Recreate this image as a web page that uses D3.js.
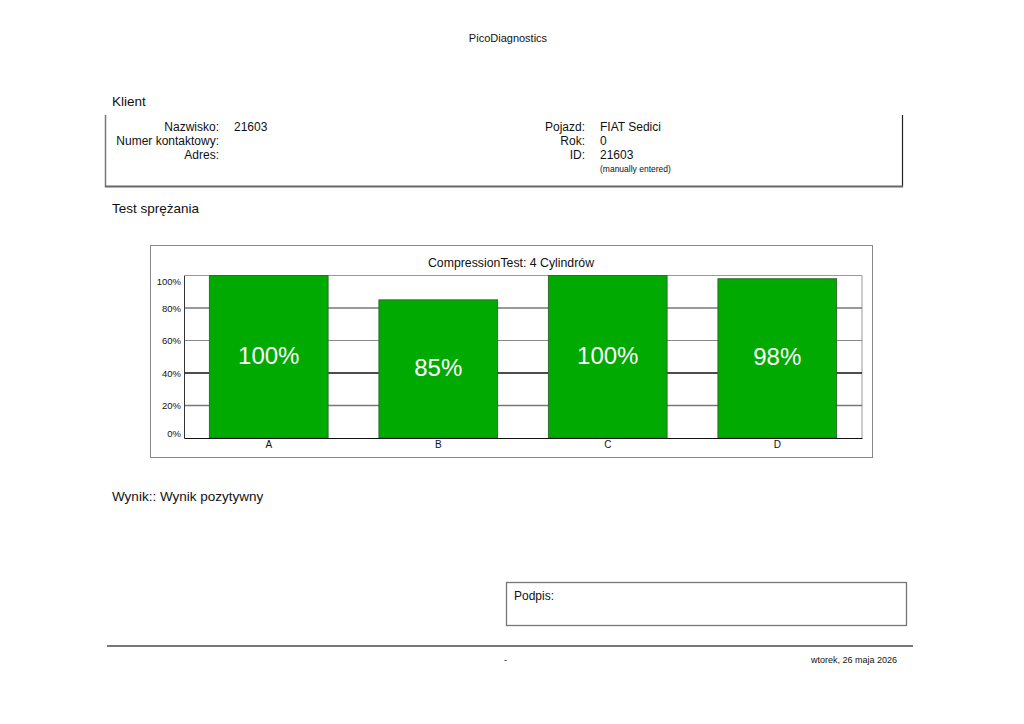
<!DOCTYPE html>
<html>
<head>
<meta charset="utf-8">
<script src="https://cdn.jsdelivr.net/npm/d3@7"></script>
<style>
  body { margin: 0; background: #fff; }
  text { font-family: "Liberation Sans", Arial, sans-serif; fill: #111; }
</style>
</head>
<body>
<div id="page"></div>
<script>
var width = 1024
var height = 724

// chart data
var cylinders = ["A", "B", "C", "D"]
var compression = [100, 85, 100, 98]
var yTicks = [0, 20, 40, 60, 80, 100]

// report fields
var clientLabels = ["Nazwisko:", "Numer kontaktowy:", "Adres:"]
var clientValues = ["21603", "", ""]
var vehicleLabels = ["Pojazd:", "Rok:", "ID:"]
var vehicleValues = ["FIAT Sedici", "0", "21603"]

var svg = d3.select("#page")
  .append("svg")
    .attr("width", width)
    .attr("height", height)

svg.append("rect").attr("width", width).attr("height", height).attr("fill", "#fff")

// header
svg.append("text").attr("x", 508).attr("y", 42).attr("text-anchor", "middle")
  .style("font-size", "11px").text("PicoDiagnostics")

svg.append("text").attr("x", 112).attr("y", 106).style("font-size", "13.5px").text("Klient")

// client box
svg.append("line").attr("x1", 105.5).attr("x2", 105.5).attr("y1", 115).attr("y2", 187)
  .attr("stroke", "#777").attr("stroke-width", 1.5)
svg.append("line").attr("x1", 902.5).attr("x2", 902.5).attr("y1", 115).attr("y2", 187)
  .attr("stroke", "#222").attr("stroke-width", 1.2)
svg.append("line").attr("x1", 105).attr("x2", 903).attr("y1", 186.5).attr("y2", 186.5)
  .attr("stroke", "#666").attr("stroke-width", 2)

var rowY = d3.scaleLinear().domain([0, 1]).range([131, 145])

svg.selectAll(".clab").data(clientLabels).enter().append("text")
  .attr("x", 219).attr("y", function(d, i) { return rowY(i) })
  .attr("text-anchor", "end").style("font-size", "12px").text(function(d) { return d })
svg.selectAll(".cval").data(clientValues).enter().append("text")
  .attr("x", 234).attr("y", function(d, i) { return rowY(i) })
  .style("font-size", "12px").text(function(d) { return d })
svg.selectAll(".vlab").data(vehicleLabels).enter().append("text")
  .attr("x", 585).attr("y", function(d, i) { return rowY(i) })
  .attr("text-anchor", "end").style("font-size", "12px").text(function(d) { return d })
svg.selectAll(".vval").data(vehicleValues).enter().append("text")
  .attr("x", 600).attr("y", function(d, i) { return rowY(i) })
  .style("font-size", "12px").text(function(d) { return d })
svg.append("text").attr("x", 600).attr("y", rowY(3) - 1)
  .style("font-size", "8.5px").text("(manually entered)")

svg.append("text").attr("x", 112).attr("y", 213).style("font-size", "13.5px").text("Test sprężania")

// chart frame
svg.append("rect").attr("x", 150.5).attr("y", 245.5).attr("width", 722).attr("height", 212)
  .attr("fill", "#fff").attr("stroke", "#888").attr("stroke-width", 1)

svg.append("text").attr("x", 511).attr("y", 267).attr("text-anchor", "middle")
  .style("font-size", "12.3px").text("CompressionTest: 4 Cylindrów")

var plotL = 184, plotR = 862, plotT = 275.5, plotB = 438

var x = d3.scaleBand().domain(cylinders).range([plotL, plotR])
  .paddingInner(0.3).paddingOuter(0.15)
var y = d3.scaleLinear().domain([0, 100]).range([plotB, plotT])

// plot border top/right
svg.append("path")
  .attr("d", "M" + plotL + "," + plotT + "H" + plotR + "V" + plotB)
  .attr("fill", "none").attr("stroke", "#999").attr("stroke-width", 1)

// gridlines
svg.append("g").selectAll("line").data(yTicks.filter(function(t) { return t > 0 && t < 100 }))
  .enter().append("line")
    .attr("x1", plotL).attr("x2", plotR)
    .attr("y1", function(d) { return y(d) }).attr("y2", function(d) { return y(d) })
    .attr("stroke", function(d) { return d == 40 ? "#111" : d == 60 ? "#888" : "#777" })
    .attr("stroke-width", function(d) { return d == 60 ? 1 : 1.6 })

// y axis
var yAxis = svg.append("g").attr("transform", "translate(" + plotL + ",0)")
  .call(d3.axisLeft(y).tickValues(yTicks).tickSize(0).tickPadding(3)
    .tickFormat(function(d) { return d + "%" }))
yAxis.select(".domain").attr("stroke", "#333")
yAxis.selectAll("text").style("font-size", "9.5px").attr("fill", "#111")
  .attr("font-family", "Liberation Sans, Arial, sans-serif")
  // end labels sit inside the plot range
  .attr("y", function(d) { return d == 100 ? 6 : d == 0 ? -5 : 0 })

// bars
svg.append("g").selectAll("rect").data(compression).enter().append("rect")
  .attr("x", function(d, i) { return x(cylinders[i]) })
  .attr("y", function(d) { return y(d) })
  .attr("width", x.bandwidth())
  .attr("height", function(d) { return plotB - y(d) })
  .attr("fill", "#00aa00").attr("stroke", "#2f6b2f").attr("stroke-width", 1)

svg.append("g").selectAll("text").data(compression).enter().append("text")
  .attr("x", function(d, i) { return x(cylinders[i]) + x.bandwidth() / 2 })
  .attr("y", function(d) { return (y(d) + plotB) / 2 + 7 })
  .attr("text-anchor", "middle")
  .style("font-size", "24px").style("fill", "#fff")
  .text(function(d) { return d + "%" })

// x axis
var xAxis = svg.append("g").attr("transform", "translate(0," + plotB + ")")
  .call(d3.axisBottom(x).tickSize(0).tickPadding(3))
xAxis.select(".domain").attr("stroke", "#111").attr("stroke-width", 1.2)
xAxis.selectAll("text").style("font-size", "10px").attr("fill", "#111")
  .attr("font-family", "Liberation Sans, Arial, sans-serif")

// result
svg.append("text").attr("x", 112).attr("y", 501).style("font-size", "13.5px").text("Wynik:: Wynik pozytywny")

// signature box
svg.append("rect").attr("x", 506.5).attr("y", 582.5).attr("width", 400).attr("height", 43)
  .attr("fill", "none").attr("stroke", "#777").attr("stroke-width", 1.3)
svg.append("text").attr("x", 514).attr("y", 600).style("font-size", "12px").text("Podpis:")

// footer
svg.append("line").attr("x1", 107).attr("x2", 913).attr("y1", 646).attr("y2", 646)
  .attr("stroke", "#777").attr("stroke-width", 2)
svg.append("text").attr("x", 504).attr("y", 663).style("font-size", "9px").text("-")
svg.append("text").attr("x", 897).attr("y", 663).attr("text-anchor", "end")
  .style("font-size", "9px").text("wtorek, 26 maja 2026")
</script>
</body>
</html>
